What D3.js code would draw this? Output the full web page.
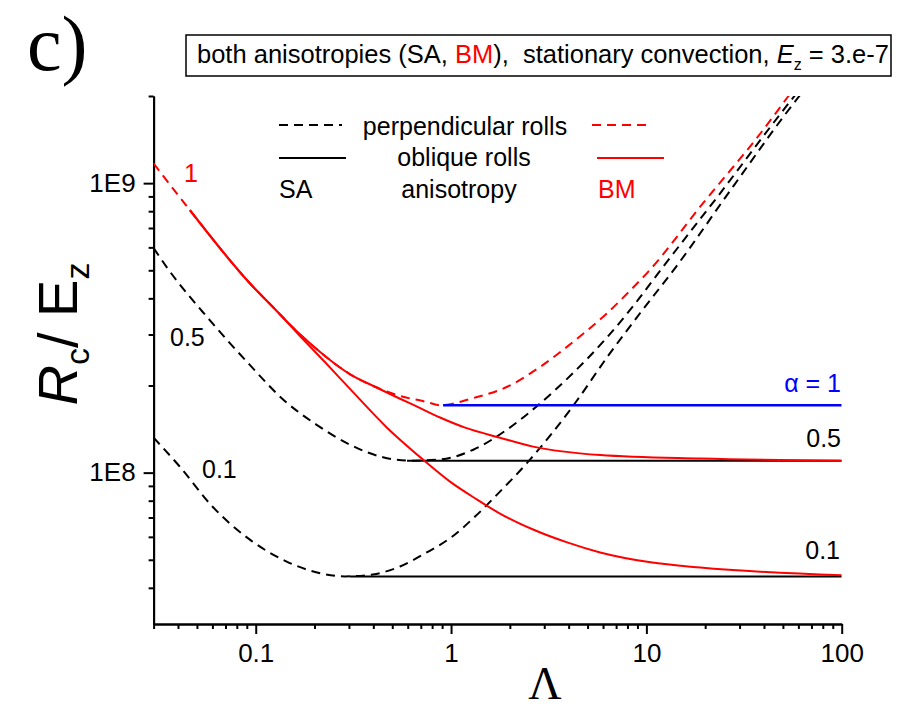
<!DOCTYPE html>
<html>
<head>
<meta charset="utf-8">
<script src="https://cdn.jsdelivr.net/npm/d3@7"></script>
<style>
  body { margin: 0; background: white; }
  svg { font-family: "Liberation Sans", Arial, sans-serif; }
</style>
</head>
<body>
<svg id="chart" width="904" height="710"></svg>
<script>
// Data: [Lambda, Rc/Ez]
// perpendicular rolls (dashed)
const perpAlpha1 = [[0.03, 1.17e9], [0.046, 8.07e8], [0.093, 4.52e8], [0.125, 3.68e8], [0.168, 3.01e8],
  [0.226, 2.53e8], [0.303, 2.19e8], [0.408, 1.98e8], [0.548, 1.84e8], [0.736, 1.76e8], [0.88, 1.71e8],
  [1.30, 1.81e8], [1.94, 1.98e8], [2.86, 2.32e8], [4.22, 2.83e8], [6.31, 3.56e8], [8.58, 4.37e8],
  [10.1, 4.9e8], [19.7, 8.6e8], [38.5, 1.49e9], [52.8, 1.98e9], [69, 2.53e9]];
const perpAlpha05 = [[0.03, 5.97e8], [0.035, 5.13e8], [0.058, 3.37e8], [0.093, 2.36e8], [0.138, 1.79e8],
  [0.206, 1.46e8], [0.303, 1.25e8], [0.448, 1.13e8], [0.616, 1.10e8], [0.88, 1.11e8], [1.30, 1.20e8],
  [1.94, 1.41e8], [2.76, 1.70e8], [4.22, 2.21e8], [6.31, 2.94e8], [8.8, 3.85e8], [11.8, 5.0e8],
  [23.2, 9.0e8], [57.3, 2.0e9], [73.5, 2.46e9]];
const perpAlpha01 = [[0.03, 1.32e8], [0.0408, 1.05e8], [0.060, 7.64e7], [0.093, 5.88e7], [0.144, 4.93e7],
  [0.206, 4.52e7], [0.286, 4.38e7], [0.398, 4.45e7], [0.548, 4.74e7], [0.736, 5.26e7], [1.0, 5.97e7],
  [1.327, 7.05e7], [1.78, 8.6e7], [2.45, 1.08e8], [4.32, 1.74e8], [6.31, 2.51e8], [9.3, 3.56e8],
  [14.4, 5.21e8], [27.9, 9.77e8], [60.7, 2.0e9], [78, 2.46e9]];

// SA oblique rolls (horizontal)
const obliqueSA1 = [[0.91, 1.71e8], [100, 1.71e8]];
const obliqueSA05 = [[0.595, 1.10e8], [100, 1.10e8]];
const obliqueSA01 = [[0.303, 4.38e7], [100, 4.38e7]];

// BM oblique rolls (red solid)
const obliqueBM05 = [[0.046, 8.07e8], [0.093, 4.52e8], [0.125, 3.68e8], [0.168, 3.01e8], [0.226, 2.53e8],
  [0.303, 2.19e8], [0.408, 1.98e8], [0.548, 1.80e8], [0.67, 1.69e8], [0.878, 1.55e8], [1.18, 1.43e8],
  [1.78, 1.32e8], [2.63, 1.23e8], [5.8, 1.15e8], [18.9, 1.118e8], [100, 1.10e8]];
const obliqueBM01 = [[0.046, 8.07e8], [0.093, 4.52e8], [0.125, 3.68e8], [0.168, 2.97e8], [0.226, 2.41e8],
  [0.303, 1.95e8], [0.470, 1.43e8], [0.718, 1.11e8], [0.988, 9.31e7], [1.36, 8.07e7], [1.78, 7.22e7],
  [2.63, 6.36e7], [3.93, 5.74e7], [5.8, 5.3e7], [10.5, 4.9e7], [18.9, 4.7e7], [100, 4.42e7]];

const xMajor = [0.1, 1, 10, 100];
const xMinor = [0.03, 0.04, 0.05, 0.06, 0.07, 0.08, 0.09, 0.2, 0.3, 0.4, 0.5, 0.6, 0.7, 0.8, 0.9,
  2, 3, 4, 5, 6, 7, 8, 9, 20, 30, 40, 50, 60, 70, 80, 90];
const yMajor = [1e8, 1e9];
const yMajorLabels = ['1E8', '1E9'];
const yMinor = [4e7, 5e7, 6e7, 7e7, 8e7, 9e7, 2e8, 3e8, 4e8, 5e8, 6e8, 7e8, 8e8, 9e8, 2e9];

const svg = d3.select('#chart');

// plot box
const plotLeft = 153.6, plotRight = 841.7, plotTop = 96, plotBottom = 624;

const x = d3.scaleLog().domain([0.03, 100]).range([plotLeft, plotRight]);
const y = d3.scaleLog().domain([3e7, 2e9]).range([plotBottom, plotTop]);

svg.append('defs').append('clipPath').attr('id', 'plotclip')
  .append('rect')
  .attr('x', plotLeft).attr('y', plotTop)
  .attr('width', plotRight - plotLeft).attr('height', plotBottom - plotTop);

// axes
svg.append('g').attr('transform', `translate(0,${plotBottom})`)
  .call(d3.axisBottom(x).tickValues(xMajor).tickFormat(d3.format('')).tickSize(10).tickSizeOuter(0).tickPadding(10));
svg.append('g').attr('transform', `translate(0,${plotBottom})`)
  .call(d3.axisBottom(x).tickValues(xMinor).tickFormat('').tickSize(5).tickSizeOuter(0));

svg.append('g').attr('transform', `translate(${plotLeft},0)`)
  .call(d3.axisLeft(y).tickValues(yMajor).tickFormat((d, i) => yMajorLabels[i]).tickSize(10).tickSizeOuter(0).tickPadding(8));
svg.append('g').attr('transform', `translate(${plotLeft},0)`)
  .call(d3.axisLeft(y).tickValues(yMinor).tickFormat('').tickSize(5).tickSizeOuter(0));

svg.selectAll('.domain, .tick line').attr('stroke', 'black').attr('stroke-width', 2);
svg.selectAll('.tick text').attr('font-size', 26).attr('fill', 'black')
  .attr('font-family', '"Liberation Sans", Arial, sans-serif');

// curves
const line = d3.line()
  .x(d => x(d[0]))
  .y(d => y(d[1]))
  .curve(d3.curveMonotoneX);

const plot = svg.append('g').attr('clip-path', 'url(#plotclip)');

function draw(data, color, dashed, width) {
  plot.append('path')
    .datum(data)
    .attr('fill', 'none')
    .attr('stroke', color)
    .attr('stroke-width', width || 2)
    .attr('stroke-dasharray', dashed ? '9,6' : null)
    .attr('d', line);
}

draw(perpAlpha05, 'black', true);
draw(perpAlpha01, 'black', true);
draw(obliqueSA05, 'black', false);
draw(obliqueSA01, 'black', false);
draw(perpAlpha1, 'red', true);
draw(obliqueSA1, 'blue', false, 2.5);
draw(obliqueBM05, 'red', false);
draw(obliqueBM01, 'red', false);

// curve labels
const labels = svg.append('g').attr('font-size', 25);
labels.append('text').attr('x', 184).attr('y', 182).attr('fill', 'red').text('1');
labels.append('text').attr('x', 170).attr('y', 346).text('0.5');
labels.append('text').attr('x', 202).attr('y', 478).text('0.1');
labels.append('text').attr('x', 841).attr('y', 392).attr('text-anchor', 'end').attr('fill', 'blue').text('α = 1');
labels.append('text').attr('x', 841).attr('y', 447).attr('text-anchor', 'end').text('0.5');
labels.append('text').attr('x', 840).attr('y', 559).attr('text-anchor', 'end').text('0.1');

// legend
const legend = svg.append('g').attr('font-size', 25);
legend.append('line').attr('x1', 279).attr('x2', 342).attr('y1', 125).attr('y2', 125)
  .attr('stroke', 'black').attr('stroke-width', 2).attr('stroke-dasharray', '9,6');
legend.append('line').attr('x1', 592).attr('x2', 646).attr('y1', 125).attr('y2', 125)
  .attr('stroke', 'red').attr('stroke-width', 2).attr('stroke-dasharray', '9,6');
legend.append('line').attr('x1', 279).attr('x2', 346).attr('y1', 158).attr('y2', 158)
  .attr('stroke', 'black').attr('stroke-width', 2);
legend.append('line').attr('x1', 597).attr('x2', 664).attr('y1', 158).attr('y2', 158)
  .attr('stroke', 'red').attr('stroke-width', 2);
legend.append('text').attr('x', 465).attr('y', 135).attr('text-anchor', 'middle').text('perpendicular rolls');
legend.append('text').attr('x', 464).attr('y', 166).attr('text-anchor', 'middle').text('oblique rolls');
legend.append('text').attr('x', 459).attr('y', 198).attr('text-anchor', 'middle').text('anisotropy');
legend.append('text').attr('x', 279).attr('y', 198).text('SA');
legend.append('text').attr('x', 598).attr('y', 198).attr('fill', 'red').text('BM');

// title box
svg.append('rect').attr('x', 186).attr('y', 35).attr('width', 705).attr('height', 41)
  .attr('fill', 'white').attr('stroke', 'black').attr('stroke-width', 1.5);
const title = svg.append('text').attr('x', 197).attr('y', 63).attr('font-size', 25.5)
  .style('white-space', 'pre');
title.append('tspan').text('both anisotropies (SA, ');
title.append('tspan').attr('fill', 'red').text('BM');
title.append('tspan').text('),  stationary convection, ');
title.append('tspan').attr('font-style', 'italic').text('E');
title.append('tspan').attr('font-size', 16).attr('dy', 7).text('z');
title.append('tspan').attr('dy', -7).text(' = 3.e-7');

// panel letter
svg.append('text').attr('x', 27).attr('y', 70)
  .attr('font-family', '"Liberation Serif", "Times New Roman", serif')
  .attr('font-size', 78).text('c)');

// axis titles
svg.append('text').attr('x', 545).attr('y', 699).attr('text-anchor', 'middle')
  .attr('font-family', '"Liberation Serif", "Times New Roman", serif')
  .attr('font-size', 46).text('Λ');

const yTitle = svg.append('text')
  .attr('transform', 'translate(77,334) rotate(-90)')
  .attr('text-anchor', 'middle')
  .attr('font-size', 56)
  .style('white-space', 'pre');
yTitle.append('tspan').attr('font-style', 'italic').text('R');
yTitle.append('tspan').attr('font-size', 34).attr('dy', 12).text('c');
yTitle.append('tspan').attr('dy', -12).text('/ E');
yTitle.append('tspan').attr('font-size', 34).attr('dy', 12).text('z');
</script>
</body>
</html>
